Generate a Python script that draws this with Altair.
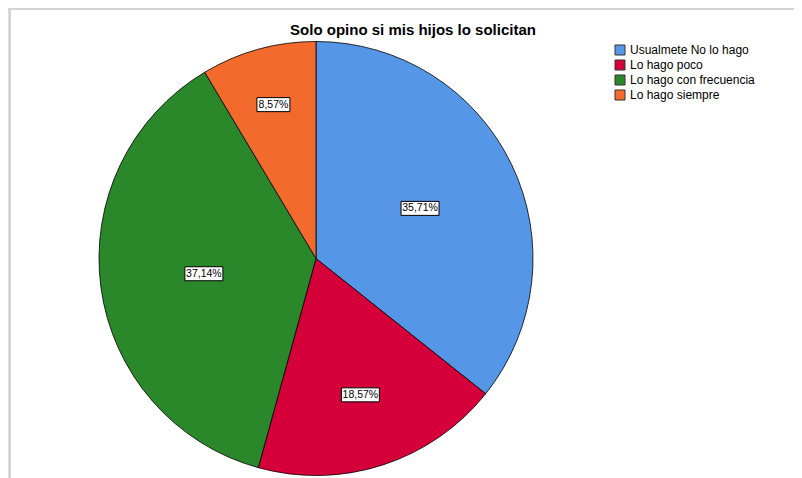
import altair as alt
import pandas as pd

TITLE = "Solo opino si mis hijos lo solicitan"
categories = ["Usualmete No lo hago", "Lo hago poco", "Lo hago con frecuencia", "Lo hago siempre"]
percentages = [35.71, 18.57, 37.14, 8.57]
labels = ["35,71%", "18,57%", "37,14%", "8,57%"]
colors = ["#5596E6", "#D5003A", "#2A882A", "#F26A2C"]

df = pd.DataFrame({
    "cat": categories,
    "pct": percentages,
    "label": labels,
    "order": list(range(len(categories))),
})

W, H = 786, 470
CX, CY, R = 308, 250.5, 217
FONT = "Liberation Sans"

base = alt.Chart(df)

pie = base.mark_arc(radius=R, stroke="#000000", strokeWidth=0.8).encode(
    theta=alt.Theta("pct:Q", stack=True),
    order=alt.Order("order:Q"),
    color=alt.Color(
        "cat:N",
        sort=categories,
        scale=alt.Scale(domain=categories, range=colors),
        legend=alt.Legend(
            title=None,
            orient="none",
            legendX=606,
            legendY=36,
            symbolType="square",
            symbolSize=100,
            symbolStrokeColor="#333333",
            symbolStrokeWidth=1,
            symbolOpacity=1,
            labelFont=FONT,
            labelFontSize=12,
            labelColor="#000000",
            labelOffset=4,
            rowPadding=1,
            padding=0,
        ),
    ),
    x=alt.value(CX),
    y=alt.value(CY),
)

pos = base.transform_window(
    cum="sum(pct)", sort=[alt.SortField("order")], frame=[None, 0]
).transform_calculate(
    mid="(datum.cum - datum.pct/2) / 100 * 2 * PI",
    lr=f"{R} * (0.80 - 0.0075 * datum.pct)",
).transform_calculate(
    lx=f"{CX} + datum.lr * sin(datum.mid)",
    ly=f"{CY} - datum.lr * cos(datum.mid)",
    bw="5 * length(datum.label) + 8",
).transform_calculate(
    x1="datum.lx - datum.bw/2",
    x2="datum.lx + datum.bw/2",
    y1="datum.ly - 7",
    y2="datum.ly + 7",
)

boxes = pos.mark_rect(fill="white", stroke="#000000", strokeWidth=1).encode(
    x=alt.X("x1:Q", scale=None),
    x2="x2:Q",
    y=alt.Y("y1:Q", scale=None),
    y2="y2:Q",
)

texts = pos.mark_text(font=FONT, fontSize=10.5, color="#000000", baseline="middle", align="center").encode(
    x=alt.X("lx:Q", scale=None),
    y=alt.Y("ly:Q", scale=None),
    text="label:N",
)

one = alt.Chart(pd.DataFrame({"t": [TITLE]}))

title = one.mark_text(font=FONT, fontSize=15, fontWeight="bold", color="#000000", align="center", baseline="middle").encode(
    x=alt.value(405), y=alt.value(22), text="t:N"
)

top_line = one.mark_rule(color="#d4d4d4", strokeWidth=2).encode(
    x=alt.value(0), x2=alt.value(W), y=alt.value(1), y2=alt.value(1)
)
left_line = one.mark_rule(color="#d4d4d4", strokeWidth=2).encode(
    x=alt.value(2), y=alt.value(0), y2=alt.value(H)
)

chart = alt.layer(top_line, left_line, pie, boxes, texts, title).properties(
    width=W,
    height=H,
    autosize=alt.AutoSizeParams(type="none"),
    padding=0,
).configure_view(stroke=None).configure(background="white")

chart.save("out.html", embed_options={"renderer": "svg", "actions": False})
